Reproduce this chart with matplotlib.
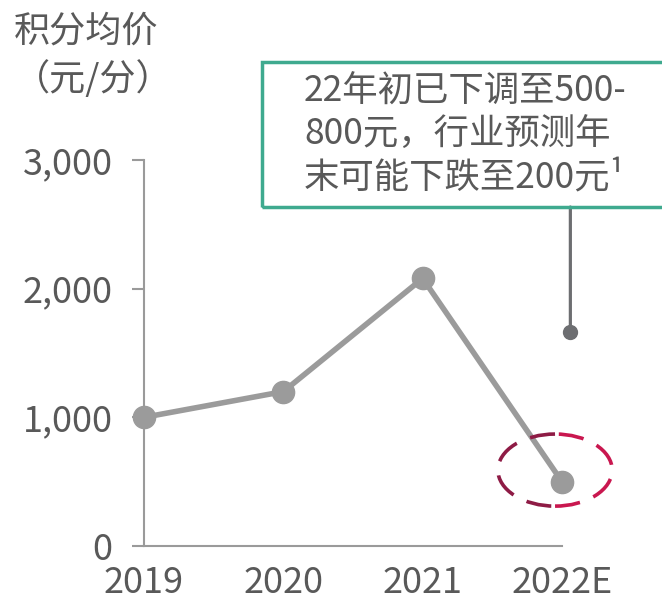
import matplotlib
matplotlib.use("Agg")
import matplotlib.pyplot as plt
from matplotlib.patches import Arc, Rectangle

plt.rcParams['font.family'] = ['Noto Sans CJK SC', 'DejaVu Sans']

# dados
anos = ['2019', '2020', '2021', '2022E']
preco = [1000, 1200, 2080, 500]
y_ticks = [0, 1000, 2000, 3000]
y_labels = ['0', '1,000', '2,000', '3,000']
rotulo_y = '积分均价\n（元/分）'
nota = '22年初已下调至500-\n800元，行业预测年\n末可能下跌至200元¹'
ponto_nota = (3.06, 1660)

cinza_txt = '#595959'
cinza_eixo = '#9a9a9a'

fig = plt.figure(figsize=(6.62, 5.96), dpi=100)
ax = fig.add_axes([144 / 662, 50 / 596, 418 / 662, 386 / 596])

x = list(range(len(anos)))
ax.plot(x, preco, '-o', color='#9b9b9b', lw=4, markersize=16, clip_on=False, zorder=3)

ax.set_xlim(0, 3)
ax.set_ylim(0, 3000)
ax.set_xticks(x)
ax.set_xticklabels(anos)
ax.set_yticks(y_ticks)
ax.set_yticklabels(y_labels)
for s in ['top', 'right']:
    ax.spines[s].set_visible(False)
for s in ['left', 'bottom']:
    ax.spines[s].set_color(cinza_eixo)
    ax.spines[s].set_linewidth(1.5)
ax.tick_params(axis='y', length=8.5, width=1.5, color=cinza_eixo, labelsize=26,
               labelcolor=cinza_txt, pad=14)
ax.tick_params(axis='x', length=0, labelsize=26, labelcolor=cinza_txt, pad=14)

# rótulo do eixo y
fig.text(14 / 662, 1 - 14 / 596, rotulo_y, ha='left', va='top', fontsize=26,
         color=cinza_txt, linespacing=1.35)

# elipse tracejada em volta de 2022E
cx, cy, w, h = 2.95, 590, 0.82, 560
ax.add_patch(Arc((cx, cy), w, h, theta1=90, theta2=270, color='#8e1b45', lw=2.6,
                 linestyle=(0, (7, 4)), clip_on=False, zorder=4))
ax.add_patch(Arc((cx, cy), w, h, theta1=270, theta2=450, color='#c9174f', lw=2.6,
                 linestyle=(0, (7, 4)), clip_on=False, zorder=4))

# caixa de nota
fig.patches.append(Rectangle((262 / 662, 1 - 207 / 596), 410 / 662, 145 / 596,
                             transform=fig.transFigure, fill=False,
                             edgecolor='#3faa8f', lw=2.5))
fig.text(304 / 662, 1 - 74 / 596, nota, ha='left', va='top', fontsize=25.5,
         color=cinza_txt, linespacing=1.24)

# linha de ligação
ax.annotate('', xy=ponto_nota, xycoords='data',
            xytext=(ponto_nota[0], 1 - 207 / 596), textcoords=('data', 'figure fraction'),
            arrowprops=dict(arrowstyle='-', color='#6d6e71', lw=2.3,
                            shrinkA=0, shrinkB=0), annotation_clip=False)
ax.plot([ponto_nota[0]], [ponto_nota[1]], 'o', color='#6d6e71', markersize=10,
        clip_on=False, zorder=5)

fig.savefig('out.png', dpi=100)
